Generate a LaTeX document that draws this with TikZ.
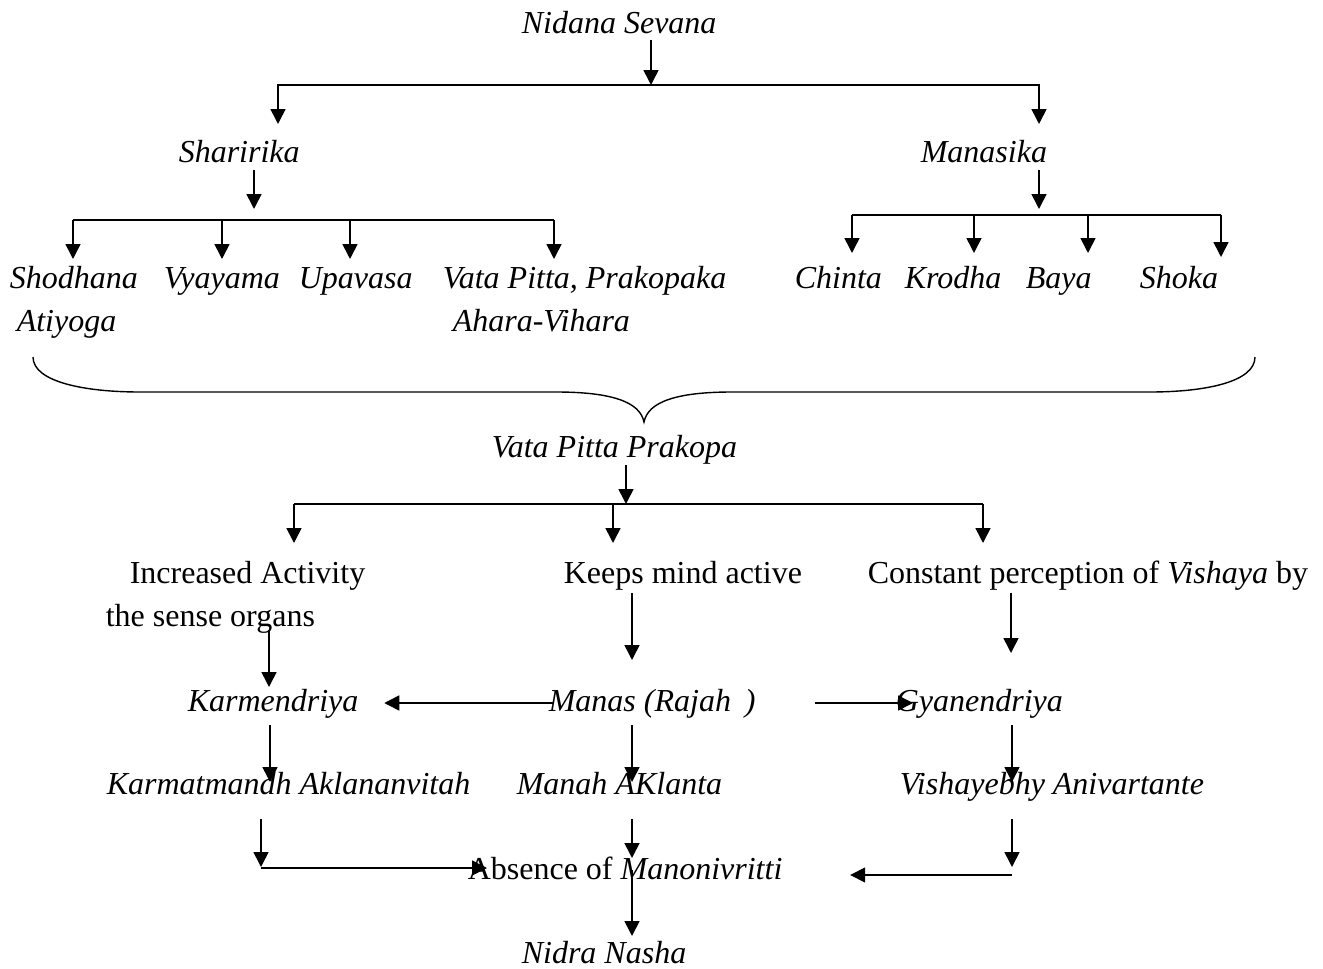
\documentclass[tikz,border=0pt]{standalone}
\usepackage{fontspec}
\setmainfont{Liberation Serif}
\usetikzlibrary{positioning,calc,arrows.meta}
\tikzset{>={Triangle[width=15pt,length=15pt]}}

\begin{document}
\begin{tikzpicture}[x=1pt,y=-1pt,line width=1.6pt,
  every node/.style={inner sep=0pt,anchor=base west,font=\fontsize{32}{38}\selectfont},
  term/.style={font=\fontsize{32}{38}\selectfont\itshape}]
\useasboundingbox (0,0) rectangle (1323,969);

% Texts of the chart
\node[term] (nidana) at (521,34) {Nidana Sevana};
\node[term] (sharirika) at (178,162) {Sharirika};
\node[term] (manasika) at (920,162) {Manasika};

\node[term] (shodhana) at (9,288) {Shodhana};
\node[term] (atiyoga) at (16,331) {Atiyoga};
\node[term] (vyayama) at (163,288) {Vyayama};
\node[term] (upavasa) at (298,288) {Upavasa};
\node[term] (prakopaka) at (442,288) {Vata Pitta, Prakopaka};
\node[term] (ahara) at (452,331) {Ahara-Vihara};
\node[term] (chinta) at (794,288) {Chinta};
\node[term] (krodha) at (904,288) {Krodha};
\node[term] (baya) at (1025,288) {Baya};
\node[term] (shoka) at (1139,288) {Shoka};

\node[term] (prakopa) at (491,457) {Vata Pitta Prakopa};

\node (activity) at (129,583) {Increased Activity};
\node (sense) at (105,626) {the sense organs};
\node (keeps) at (563,583) {Keeps mind active};
\node (constant) at (867,583) {Constant perception of \textit{Vishaya} by};

\node[term] (karmendriya) at (187,711) {Karmendriya};
\node[term] (manas) at (548,711) {Manas (Rajah\hspace{14pt})};
\node[term] (gyanendriya) at (895,711) {Gyanendriya};

\node[term] (karmatman) at (106,794) {Karmatmandh Aklananvitah};
\node[term] (klanta) at (516,794) {Manah AKlanta};
\node[term] (vishayebhy) at (899,794) {Vishayebhy Anivartante};

\node (absence) at (467,879) {Absence of \textit{Manonivritti}};
\node[term] (nidra) at (521,963) {Nidra Nasha};

% First split
\coordinate (N) at (651,85);
\coordinate (S) at (278,124);
\coordinate (M) at (1039,124);
\draw[->] ($(nidana.base -| N)+(0,6)$) -- (N);
\draw[->] (N) -| (S);
\draw[->] (N) -| (M);

% Sharirika branches
\coordinate (Sb) at (254,209);
\draw[->] ($(sharirika.base -| Sb)+(0,8)$) -- (Sb);
\draw (73,220) -- (554,220);
\foreach \x in {73,222,350,554}
  \draw[->] (\x,220) -- (\x,259);

% Manasika branches
\coordinate (Mb) at (1039,209);
\draw[->] ($(manasika.base -| Mb)+(0,8)$) -- (Mb);
\draw (852,215) -- (1221,215);
\foreach \x/\y in {852/253,974/253,1088/253,1221/257}
  \draw[->] (\x,215) -- (\x,\y);

% Brace
\draw[line width=1.4pt] (33,357) .. controls (33,382) and (85,392) .. (140,392)
  -- (556,392) .. controls (612,392) and (640,402) .. (644,422)
  .. controls (648,402) and (676,392) .. (732,392)
  -- (1150,392) .. controls (1205,392) and (1255,382) .. (1255,357);

% Prakopa split
\coordinate (P) at (626,504);
\draw[->] ($(prakopa.base -| P)+(0,8)$) -- (P);
\draw (294,504) -- (983,504);
\foreach \x in {294,613,983}
  \draw[->] (\x,504) -- (\x,543);

% Down to the Indriyas and Manas
\coordinate (K) at (269,687);
\coordinate (Ma) at (632,660);
\coordinate (G) at (1011,653);
\draw[->] ($(sense.base -| K)+(0,4)$) -- (K);
\draw[->] ($(keeps.base -| Ma)+(0,10)$) -- (Ma);
\draw[->] ($(constant.base -| G)+(0,10)$) -- (G);

\draw[->] ($(manas.base west)+(6,-8)$) -- ($(karmendriya.base east)+(25,-8)$);
\draw[->] ($(manas.base east)+(59,-8)$) -- ($(gyanendriya.base west)+(18,-8)$);

\coordinate (K2) at (270,782);
\coordinate (Ma2) at (632,782);
\coordinate (G2) at (1012,782);
\draw[->] ($(karmendriya.base -| K2)+(0,14)$) -- (K2);
\draw[->] ($(manas.base -| Ma2)+(0,14)$) -- (Ma2);
\draw[->] ($(gyanendriya.base -| G2)+(0,14)$) -- (G2);

% Into Absence of Manonivritti
\coordinate (K3) at (261,867);
\coordinate (Ma3) at (632,858);
\coordinate (G3) at (1012,867);
\draw[->] ($(karmatman.base -| K3)+(0,25)$) -- (K3);
\draw[->] ($(klanta.base -| Ma3)+(0,25)$) -- (Ma3);
\draw[->] ($(vishayebhy.base -| G3)+(0,25)$) -- (G3);
\draw[->] (261,868) -- ($(absence.base west)+(20,-11)$);
\draw[->] (1012,875) -- ($(absence.base east)+(67,-4)$);

% To Nidra Nasha
\coordinate (Nn) at (632,936);
\draw[->] ($(absence.base -| Nn)+(0,-9)$) -- (Nn);
\end{tikzpicture}
\end{document}
